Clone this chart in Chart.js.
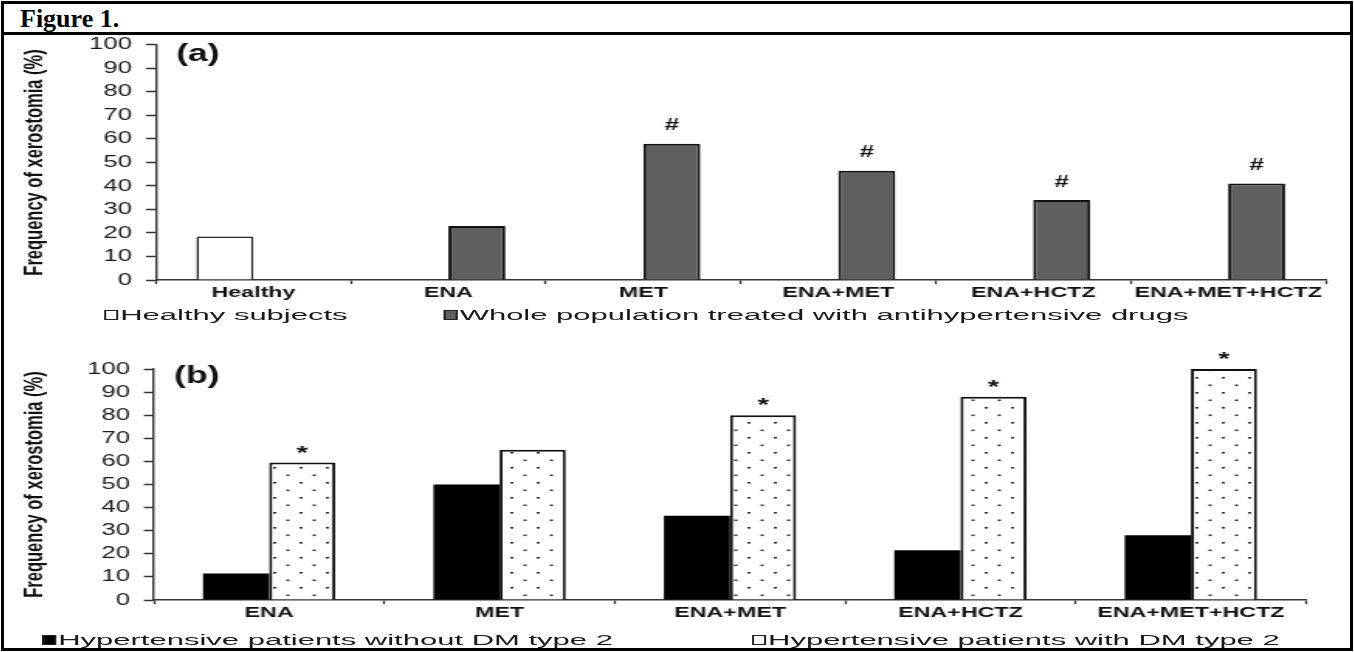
<!DOCTYPE html>
<html><head><meta charset="utf-8">
<script src="https://cdn.jsdelivr.net/npm/chart.js@4.4.1/dist/chart.umd.min.js"></script>
<style>
html,body{margin:0;padding:0;background:#fff;}
body{width:1354px;height:652px;position:relative;overflow:hidden;font-family:"Liberation Sans",Arial,sans-serif;}
#frame{position:absolute;left:1px;top:1px;width:1346px;height:644px;border:3px solid #000;}
#caption{position:absolute;left:0;top:0;width:1346px;height:28px;border-bottom:3px solid #000;}
#caption span{position:absolute;left:16px;top:0px;font:bold 26px "Liberation Serif","Times New Roman",serif;line-height:30px;color:#000;}
#fig{position:absolute;left:5px;top:35px;width:864px;height:620px;transform:scaleX(1.55);transform-origin:0 0;}
#fig canvas{position:absolute;left:0;}
.leg{position:absolute;white-space:nowrap;font-size:15.5px;line-height:16px;color:#1a1a1a;transform:scaleX(1.29);transform-origin:0 0;}
.bx{display:inline-block;width:6.5px;height:10px;border:1px solid #222;margin-right:1.5px;vertical-align:0px;box-sizing:border-box;}
</style>
</head>
<body>
<div id="frame">
  <div id="caption"><span>Figure 1.</span></div>
</div>
<div id="fig">
  <canvas id="ca" width="864" height="276" style="top:-9px"></canvas>
  <canvas id="cb" width="864" height="293" style="top:294px"></canvas>
</div>
<script>
// ---- data ----
const categoriesA = ['Healthy', 'ENA', 'MET', 'ENA+MET', 'ENA+HCTZ', 'ENA+MET+HCTZ'];
const healthyValues = [18.5, null, null, null, null, null];
const treatedValues = [null, 23, 58, 46.5, 34, 41];
const treatedMarks = ['', '', '#', '#', '#', '#'];

const categoriesB = ['ENA', 'MET', 'ENA+MET', 'ENA+HCTZ', 'ENA+MET+HCTZ'];
const withoutDMValues = [11.5, 50, 36.5, 21.5, 28];
const withDMValues = [59.5, 65, 80, 88, 100];
const withDMMarks = ['*', '', '*', '*', '*'];

const yTickValues = [0, 10, 20, 30, 40, 50, 60, 70, 80, 90, 100];
const yTitle = 'Frequency of xerostomia (%)';
const seriesNamesA = ['Healthy subjects', 'Whole population treated with antihypertensive drugs'];
const seriesNamesB = ['Hypertensive patients without DM type 2', 'Hypertensive patients with DM type 2'];
const panelNames = ['(a)', '(b)'];

// ---- styling helpers ----
const FONT = '"Liberation Sans", Arial, sans-serif';
Chart.defaults.font.family = FONT;
Chart.defaults.color = '#222';

function dotPattern() {
  const c = document.createElement('canvas');
  c.width = 17; c.height = 15;
  const x = c.getContext('2d');
  x.fillStyle = '#fff'; x.fillRect(0, 0, 17, 15);
  x.fillStyle = '#333';
  x.fillRect(3, 3, 2, 1.6);
  x.fillRect(11.5, 10.5, 2, 1.6);
  return x.createPattern(c, 'repeat');
}

const annotPlugin = {
  id: 'annot',
  afterDatasetsDraw(chart, args, opts) {
    const ctx = chart.ctx, ca = chart.chartArea;
    ctx.save();
    ctx.fillStyle = '#111';
    ctx.font = 'bold 23px ' + FONT;
    ctx.textAlign = 'left';
    ctx.textBaseline = 'middle';
    ctx.fillText(opts.panel, ca.left + 13, ca.top + opts.panelDy);
    chart.data.datasets.forEach((ds, i) => {
      if (!ds.marks) return;
      const meta = chart.getDatasetMeta(i);
      ctx.font = opts.markFont;
      ctx.textAlign = 'center';
      ctx.textBaseline = 'alphabetic';
      meta.data.forEach((el, j) => {
        const m = ds.marks[j];
        if (m) ctx.fillText(m, el.x, el.y - opts.markDy);
      });
    });
    ctx.restore();
  }
};

function makeOptions(yWidth, pad, panel, panelDy, markFont, markDy, catPct) {
  return {
    responsive: false,
    animation: false,
    events: [],
    layout: { padding: pad },
    datasets: { bar: { categoryPercentage: catPct, barPercentage: 1.0 } },
    plugins: {
      legend: { display: false },
      tooltip: { enabled: false },
      annot: { panel, panelDy, markFont, markDy }
    },
    scales: {
      x: {
        grid: { drawOnChartArea: false, drawTicks: true, tickLength: 4, tickWidth: 1.3, color: '#333', offset: true },
        border: { display: true, color: '#333', width: 1.6 },
        ticks: { autoSkip: false, maxRotation: 0, padding: 0, color: '#111', font: { size: 15, weight: 'bold' } },
        afterFit: s => { s.height = 22; }
      },
      y: {
        min: 0, max: 100,
        afterBuildTicks: s => { s.ticks = yTickValues.map(v => ({ value: v })); },
        grid: { drawOnChartArea: false, drawTicks: true, tickLength: 6.5, tickWidth: 1.5, color: '#333' },
        border: { display: true, color: '#333', width: 1.4 },
        ticks: { padding: 9, color: '#1a1a1a', font: { size: 16.5 } },
        title: { display: true, text: yTitle, color: '#111', font: { size: 16.5, weight: 'bold' }, padding: { top: 10, bottom: 0 } },
        afterFit: s => { s.width = yWidth; }
      }
    }
  };
}

const chartA = new Chart(document.getElementById('ca'), {
  type: 'bar',
  data: {
    labels: categoriesA,
    datasets: [
      { label: seriesNamesA[0], data: healthyValues, backgroundColor: '#ffffff', borderColor: '#222', borderWidth: 1.5 },
      { label: seriesNamesA[1], data: treatedValues, marks: treatedMarks, backgroundColor: '#5f5f5f', borderColor: '#111', borderWidth: 2 }
    ]
  },
  options: makeOptions(97.4, { top: 7, right: 12, left: 0, bottom: 0 }, panelNames[0], 10, 'bold 17px ' + FONT, 13.5, 0.585),
  plugins: [annotPlugin]
});

const chartB = new Chart(document.getElementById('cb'), {
  type: 'bar',
  data: {
    labels: categoriesB,
    datasets: [
      { label: seriesNamesB[0], data: withoutDMValues, backgroundColor: '#000000', borderWidth: 0 },
      { label: seriesNamesB[1], data: withDMValues, marks: withDMMarks, backgroundColor: dotPattern(), borderColor: '#111', borderWidth: 2 }
    ]
  },
  options: makeOptions(96.1, { top: 40, right: 24.6, left: 0, bottom: 0 }, panelNames[1], 8, 'bold 19px ' + FONT, 4, 0.574),
  plugins: [annotPlugin]
});

// ---- legends (HTML, built from dataset labels) ----
function addLegend(chart, items) {
  const fig = document.getElementById('fig');
  chart.data.datasets.forEach((ds, i) => {
    const d = document.createElement('div');
    d.className = 'leg';
    d.style.left = items[i].left + 'px';
    d.style.top = items[i].top + 'px';
    const b = document.createElement('span');
    b.className = 'bx';
    b.style.background = items[i].box;
    d.appendChild(b);
    d.appendChild(document.createTextNode(ds.label));
    fig.appendChild(d);
  });
}
addLegend(chartA, [
  { left: 63.5, top: 271.5, box: '#ffffff' },
  { left: 282.5, top: 271.5, box: '#5f5f5f' }
]);
addLegend(chartB, [
  { left: 24, top: 597, box: '#000000' },
  { left: 482, top: 597, box: '#ffffff' }
]);
</script>
</body></html>
